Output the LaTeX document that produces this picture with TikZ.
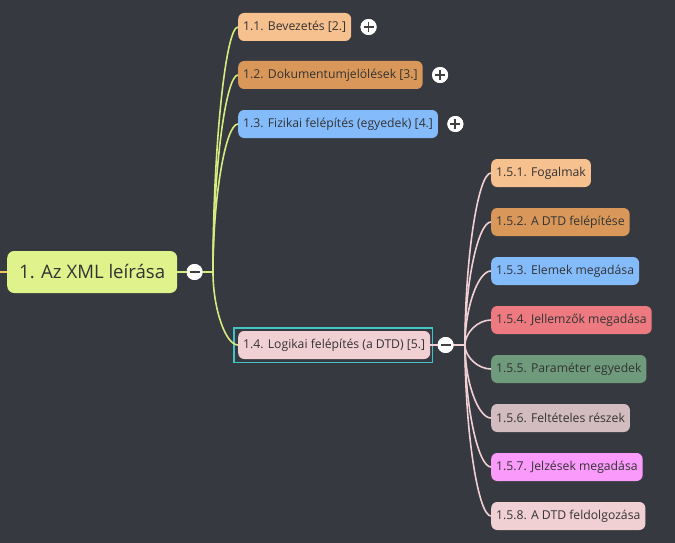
\documentclass[tikz,border=0pt]{standalone}
\usepackage{fontspec}
\newfontfamily\uifont{Open Sans}
\usetikzlibrary{positioning}
\usetikzlibrary{calc}

\definecolor{bgdark}{RGB}{54,57,63}
\definecolor{txtgray}{RGB}{51,51,51}
\definecolor{signgray}{RGB}{64,64,64}
\definecolor{rootfill}{RGB}{223,242,140}
\definecolor{limeline}{RGB}{214,234,128}
\definecolor{rootline}{RGB}{240,200,90}
\definecolor{pinkline}{RGB}{240,208,212}
\definecolor{selcyan}{RGB}{64,196,200}
\definecolor{cPeach}{RGB}{246,192,143}
\definecolor{cOrange}{RGB}{217,152,90}
\definecolor{cBlue}{RGB}{132,188,251}
\definecolor{cRed}{RGB}{236,122,128}
\definecolor{cGreen}{RGB}{111,155,124}
\definecolor{cMauve}{RGB}{210,188,191}
\definecolor{cMagenta}{RGB}{250,154,250}
\definecolor{cPink}{RGB}{241,208,212}

\begin{document}
\begin{tikzpicture}[x=1pt, y=-1pt,
    topic/.style={anchor=west, rounded corners=6pt, inner xsep=5pt, inner ysep=0pt,
      minimum height=28pt, text=txtgray, font=\uifont\fontsize{12.2}{14}\selectfont},
    toggle/.style={circle, fill=white, minimum size=16pt, inner sep=0pt},
    sign/.style={draw=signgray, line width=1.8pt},
    branch/.style={line width=1.6pt}]

      \fill[bgdark] (0,0) rectangle (675,543);
      \useasboundingbox (0,0) rectangle (675,543);

      % root
      \node[topic, fill=rootfill, rounded corners=7pt, inner xsep=12pt, minimum height=42pt,
        font=\uifont\fontsize{18.6}{22}\selectfont] (root) at (7,272) {1. Az XML leírása};
      \coordinate (edge) at (0,272);
      \node[toggle, right=9pt of root] (m0) {};

      % first level
      \node[topic, fill=cPeach] (n11) at (238,27) {1.1. Bevezetés [2.]};
      \node[topic, fill=cOrange] (n12) at (238,75) {1.2. Dokumentumjelölések [3.]};
      \node[topic, fill=cBlue] (n13) at (238,124) {1.3. Fizikai felépítés (egyedek) [4.]};
      \node[topic, fill=cPink] (n14) at (238,345) {1.4. Logikai felépítés (a DTD) [5.]};
      \node[toggle, right=9pt of n11] (p1) {};
      \node[toggle, right=9pt of n12] (p2) {};
      \node[toggle, right=9pt of n13] (p3) {};
      \node[toggle, right=7pt of n14] (m4) {};

      \draw[selcyan, line width=1.4pt] ([shift={(-4,-3)}]n14.north west) rectangle ([shift={(2,3)}]n14.south east);

      % second level
      \foreach \nm/\col/\yy/\txt in {c1/cPeach/173/{1.5.1. Fogalmak},
          c2/cOrange/222/{1.5.2. A DTD felépítése},
          c3/cBlue/271/{1.5.3. Elemek megadása},
          c4/cRed/320/{1.5.4. Jellemzők megadása},
          c5/cGreen/369/{1.5.5. Paraméter egyedek},
          c6/cMauve/418/{1.5.6. Feltételes részek},
          c7/cMagenta/467/{1.5.7. Jelzések megadása},
          c8/cPink/516/{1.5.8. A DTD feldolgozása}}
        \node[topic, fill=\col] (\nm) at (491,\yy) {\txt};

      % connectors
      \coordinate (forkA) at (213,272);
      \coordinate (forkB) at (465,345);
      \draw[branch, rootline] (edge) -- (root.west);
      \draw[branch, limeline] (root.east) -- (forkA);
      \foreach \n in {n11,n12,n13,n14} {
        \coordinate (mid) at ($(forkA)!0.5!(\n.west)$);
        \draw[branch, limeline] (forkA) .. controls (forkA |- mid) and (mid |- \n.west) .. (\n.west);
      }
      \draw[branch, pinkline] (n14.east) -- (forkB);
      \foreach \n in {c1,c2,c3,c4,c5,c6,c7,c8} {
        \coordinate (mid) at ($(forkB)!0.5!(\n.west)$);
        \draw[branch, pinkline] (forkB) .. controls (forkB |- mid) and (mid |- \n.west) .. (\n.west);
      }

      % toggles on top
      \foreach \t in {m0,p1,p2,p3,m4}
        \node[toggle] at (\t) {};
      \foreach \t in {m0,p1,p2,p3,m4}
        \draw[sign] ([xshift=-5pt]\t.center) -- ([xshift=5pt]\t.center);
      \foreach \t in {p1,p2,p3}
        \draw[sign] ([yshift=-5pt]\t.center) -- ([yshift=5pt]\t.center);
    \end{tikzpicture}
\end{document}
